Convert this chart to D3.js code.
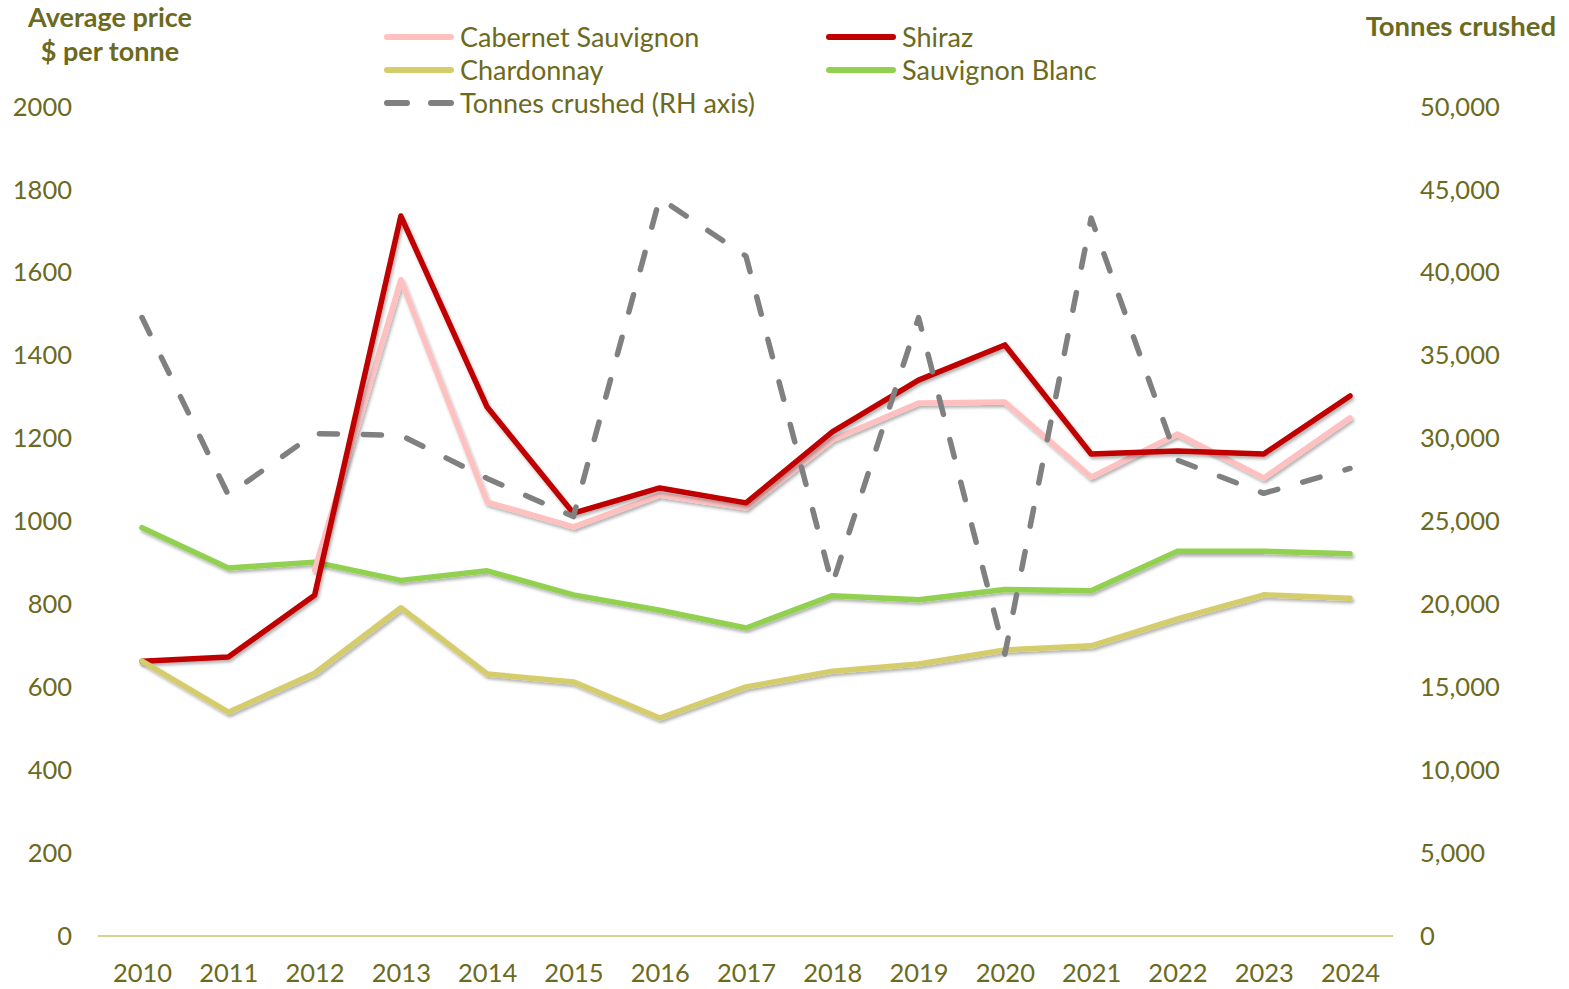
<!DOCTYPE html>
<html>
<head>
<meta charset="utf-8">
<script src="https://cdn.jsdelivr.net/npm/d3@7"></script>
<style>
  html, body { margin: 0; padding: 0; background: #fff; }
  svg { display: block; font-family: Lato, "Open Sans", sans-serif; }
</style>
</head>
<body>
<svg id="chart" width="1569" height="989"></svg>
<script>
const years = [2010, 2011, 2012, 2013, 2014, 2015, 2016, 2017, 2018, 2019, 2020, 2021, 2022, 2023, 2024];
const cabernet = [null, null, 883, 1583, 1047, 987, 1064, 1033, 1197, 1286, 1288, 1107, 1211, 1105, 1250];
const shiraz = [663, 673, 822, 1737, 1276, 1020, 1081, 1045, 1216, 1341, 1426, 1163, 1170, 1163, 1303];
const chardonnay = [663, 540, 634, 792, 632, 613, 526, 601, 639, 656, 690, 700, 765, 823, 815];
const sauvBlanc = [985, 888, 902, 858, 881, 823, 786, 743, 821, 811, 836, 833, 928, 928, 922];
const tonnes = [37300, 26600, 30300, 30200, 27600, 25300, 44500, 41000, 21200, 37300, 17000, 43300, 28700, 26700, 28200];
const leftTicks = [0, 200, 400, 600, 800, 1000, 1200, 1400, 1600, 1800, 2000];
const rightTicks = [0, 5000, 10000, 15000, 20000, 25000, 30000, 35000, 40000, 45000, 50000];
const seriesNames = ["Cabernet Sauvignon", "Shiraz", "Chardonnay", "Sauvignon Blanc", "Tonnes crushed (RH axis)"];

const TEXT = "#6b6a20";
const svg = d3.select("#chart");

const defs = svg.append("defs");
const f = defs.append("filter").attr("id", "shadow").attr("x", "-5%").attr("y", "-5%").attr("width", "110%").attr("height", "110%");
f.append("feDropShadow").attr("dx", 1.5).attr("dy", 2.5).attr("stdDeviation", 1.5)
  .attr("flood-color", "#000").attr("flood-opacity", 0.3);

const x = d3.scaleLinear().domain([2010, 2024]).range([142, 1350]);
const yL = d3.scaleLinear().domain([0, 2000]).range([936, 107]);
const yR = d3.scaleLinear().domain([0, 50000]).range([936, 107]);

// Axes
const gL = svg.append("g").attr("transform", "translate(72,0)")
  .call(d3.axisLeft(yL).tickValues(leftTicks).tickSize(0).tickPadding(0).tickFormat(d3.format("d")));
const gR = svg.append("g").attr("transform", "translate(1420,0)")
  .call(d3.axisRight(yR).tickValues(rightTicks).tickSize(0).tickPadding(0).tickFormat(d3.format(",")));
const gB = svg.append("g").attr("transform", "translate(0,936)")
  .call(d3.axisBottom(x).tickValues(years).tickSize(0).tickPadding(28).tickFormat(d3.format("d")));
[gL, gR, gB].forEach(g => {
  g.select(".domain").remove();
  g.selectAll("text").attr("fill", TEXT).style("font-size", "25.5px").style("font-family", "Lato, sans-serif");
});

// baseline
svg.append("line").attr("x1", 98).attr("x2", 1393).attr("y1", yL(0)).attr("y2", yL(0))
  .attr("stroke", "#d6d28a").attr("stroke-width", 2);

// Lines
const priceLine = d3.line().defined(d => d[1] != null).x(d => x(d[0])).y(d => yL(d[1]));
const tonLine = d3.line().x(d => x(d[0])).y(d => yR(d[1]));
const zip = arr => years.map((yr, i) => [yr, arr[i]]);

const plot = svg.append("g");
function drawPrice(arr, color) {
  plot.append("path").datum(zip(arr)).attr("d", priceLine)
    .attr("fill", "none").attr("stroke", color).attr("stroke-width", 5.5)
    .attr("stroke-linejoin", "round").attr("stroke-linecap", "round")
    .attr("filter", "url(#shadow)");
}
drawPrice(sauvBlanc, "#92d050");
drawPrice(cabernet, "#ffc0c0");
drawPrice(shiraz, "#c00000");
drawPrice(chardonnay, "#d5cd6c");
plot.append("path").datum(zip(tonnes)).attr("d", tonLine)
  .attr("fill", "none").attr("stroke", "#808080").attr("stroke-width", 5.5)
  .attr("stroke-dasharray", "18 26").attr("stroke-linecap", "round")
  .attr("stroke-linejoin", "round");

// Axis titles
const t1 = svg.append("text").attr("x", 110).attr("text-anchor", "middle")
  .attr("fill", TEXT).style("font-size", "27px").style("font-weight", "bold");
t1.append("tspan").attr("x", 110).attr("y", 27).text("Average price");
t1.append("tspan").attr("x", 110).attr("y", 61).text("$ per tonne");
svg.append("text").attr("x", 1556).attr("y", 36).attr("text-anchor", "end")
  .attr("fill", TEXT).style("font-size", "27.5px").style("font-weight", "bold").text("Tonnes crushed");

// Legend
const legendItems = [
  { name: seriesNames[0], color: "#ffc0c0", col: 0, row: 0 },
  { name: seriesNames[1], color: "#c00000", col: 1, row: 0 },
  { name: seriesNames[2], color: "#d5cd6c", col: 0, row: 1 },
  { name: seriesNames[3], color: "#92d050", col: 1, row: 1 },
  { name: seriesNames[4], color: "#808080", col: 0, row: 2, dash: true }
];
const colX = [385, 827];
const rowY = [37, 70, 103];
legendItems.forEach(it => {
  const lx = colX[it.col], ly = rowY[it.row];
  const l = svg.append("line").attr("x1", lx + 2).attr("x2", lx + 66).attr("y1", ly).attr("y2", ly)
    .attr("stroke", it.color).attr("stroke-width", 6).attr("stroke-linecap", "round");
  if (it.dash) l.attr("stroke-dasharray", "20 24");
  svg.append("text").attr("x", lx + 75).attr("y", ly).attr("dy", "0.36em")
    .attr("fill", TEXT).style("font-size", "27px").text(it.name);
});
</script>
</body>
</html>
